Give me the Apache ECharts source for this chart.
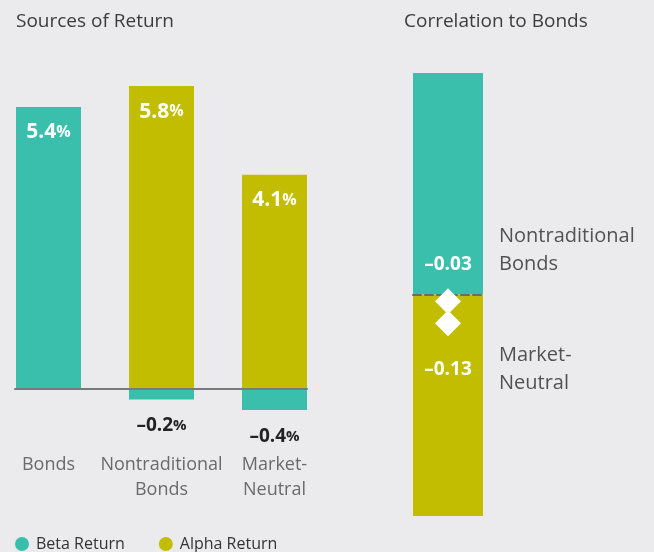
<!DOCTYPE html>
<html>
<head>
<meta charset="utf-8">
<script src="https://cdn.jsdelivr.net/npm/echarts@6/dist/echarts.min.js"></script>
<style>
  html, body { margin: 0; padding: 0; background: #ebebed; }
  #chart { width: 654px; height: 552px; }
</style>
</head>
<body>
<div id="chart"></div>
<script>
// sources of return (%)
const categories = ["Bonds", "Nontraditional\nBonds", "Market-\nNeutral"];
const betaReturn = [5.4, -0.2, -0.4];
const alphaReturn = [null, 5.8, 4.1];

// correlation to bonds: scale runs +1 .. -1
const corrCategory = ["Correlation"];
const corrUpper = [1];
const corrLower = [-1];
const corrNames = ["Nontraditional\nBonds", "Market-\nNeutral"];
const corrValues = [-0.03, -0.13];

const TEAL = "#3bbfad";
const OLIVE = "#c2bd00";
const FONT = "Open Sans";

// 负数用长横线
function fmt(v, digits) {
  return (v < 0 ? "\u2013" : "") + Math.abs(v).toFixed(digits);
}

function barLabel(v) {
  if (v < 0) {
    return {
      show: true,
      position: "bottom",
      distance: 17,
      formatter: (p) => `{n|${fmt(p.value, 1)}}{p|%}`,
      rich: {
        n: { fontSize: 19, fontWeight: "bold", color: "#222", fontFamily: FONT },
        p: { fontSize: 15, fontWeight: "bold", color: "#222", fontFamily: FONT },
      },
    };
  }
  return {
    show: true,
    position: "insideTop",
    distance: 15,
    formatter: (p) => `{n|${fmt(p.value, 1)}}{p|%}`,
    rich: {
      n: { fontSize: 21, fontWeight: "bold", color: "#fff", fontFamily: FONT },
      p: { fontSize: 16, fontWeight: "bold", color: "#fff", fontFamily: FONT },
    },
  };
}

const toBarData = (arr) =>
  arr.map((v) => (v == null ? null : { value: v, label: barLabel(v) }));

// 数值标签和名称标签的偏移（第一个在上，第二个在下）
const valueOffsets = [[0, -37], [0, 46]];
const nameOffsets = [[51, -51], [51, 46]];

const chart = echarts.init(document.getElementById("chart"));

const option = {
  animation: false,
  backgroundColor: "#ebebed",
  textStyle: { fontFamily: FONT },
  title: [
    {
      text: "Sources of Return",
      left: 11,
      top: 7,
      textStyle: { fontSize: 19, fontWeight: "normal", color: "#3c3c3c", fontFamily: FONT },
    },
    {
      text: "Correlation to Bonds",
      left: 399,
      top: 7,
      textStyle: { fontSize: 19, fontWeight: "normal", color: "#3c3c3c", fontFamily: FONT },
    },
  ],
  legend: {
    data: ["Beta Return", "Alpha Return"],
    left: 10,
    top: 531,
    icon: "circle",
    itemWidth: 14,
    itemHeight: 14,
    itemGap: 34,
    textStyle: { fontSize: 16, color: "#333", fontFamily: FONT, padding: [0, 0, 0, 2] },
  },
  grid: [
    { left: -8, width: 339, top: 75.6, height: 417.9, outerBoundsMode: "none", containLabel: false },
    { left: 15, width: 292, top: 75.6, height: 417.9, outerBoundsMode: "none", containLabel: false },
    { left: 413, width: 70, top: 73, height: 443, outerBoundsMode: "none", containLabel: false },
  ],
  xAxis: [
    {
      gridIndex: 0,
      type: "category",
      data: categories,
      axisLine: { show: false, onZero: false },
      axisTick: { show: false },
      // 标签放在网格底边之上
      axisLabel: {
        interval: 0,
        margin: -41,
        fontSize: 18,
        lineHeight: 25,
        color: "#6a6a6a",
        fontFamily: FONT,
      },
    },
    {
      gridIndex: 1,
      type: "value",
      min: 0,
      max: 1,
      z: 5,
      axisLine: { show: true, onZero: true, lineStyle: { color: "#7a7a7a", width: 2 } },
      axisTick: { show: false },
      axisLabel: { show: false },
      splitLine: { show: false },
    },
    {
      gridIndex: 2,
      type: "category",
      data: corrCategory,
      z: 5,
      axisLine: {
        show: true,
        onZero: true,
        lineStyle: { color: "#6b6b6b", width: 2, type: [8, 4] },
      },
      axisTick: { show: false },
      axisLabel: { show: false },
    },
  ],
  yAxis: [
    { gridIndex: 0, type: "value", min: -2, max: 6, show: false, splitLine: { show: false } },
    { gridIndex: 1, type: "value", min: -2, max: 6, show: false, splitLine: { show: false } },
    { gridIndex: 2, type: "value", min: -1, max: 1, show: false, splitLine: { show: false } },
  ],
  series: [
    {
      name: "Beta Return",
      type: "bar",
      stack: "ret",
      xAxisIndex: 0,
      yAxisIndex: 0,
      barWidth: 65,
      itemStyle: { color: TEAL },
      data: toBarData(betaReturn),
    },
    {
      name: "Alpha Return",
      type: "bar",
      stack: "ret",
      xAxisIndex: 0,
      yAxisIndex: 0,
      barWidth: 65,
      itemStyle: { color: OLIVE },
      data: toBarData(alphaReturn),
    },
    {
      name: "Upper",
      type: "bar",
      stack: "corr",
      xAxisIndex: 2,
      yAxisIndex: 2,
      barWidth: "100%",
      itemStyle: { color: TEAL },
      data: corrUpper,
    },
    {
      name: "Lower",
      type: "bar",
      stack: "corr",
      xAxisIndex: 2,
      yAxisIndex: 2,
      barWidth: "100%",
      itemStyle: { color: OLIVE },
      data: corrLower,
    },
    {
      name: "Correlation",
      type: "scatter",
      xAxisIndex: 2,
      yAxisIndex: 2,
      z: 6,
      symbol: "diamond",
      symbolSize: 26,
      itemStyle: { color: "#fff", opacity: 1 },
      data: corrValues.map((v, i) => ({
        value: [0, v],
        label: {
          show: true,
          position: "inside",
          offset: valueOffsets[i],
          formatter: fmt(v, 2),
          fontSize: 19,
          fontWeight: "bold",
          color: "#fff",
          fontFamily: FONT,
        },
      })),
    },
    {
      name: "Names",
      type: "scatter",
      xAxisIndex: 2,
      yAxisIndex: 2,
      z: 6,
      symbolSize: 1,
      itemStyle: { color: "rgba(0,0,0,0)" },
      data: corrValues.map((v, i) => ({
        value: [0, v],
        label: {
          show: true,
          position: "inside",
          align: "left",
          verticalAlign: "middle",
          offset: nameOffsets[i],
          formatter: corrNames[i],
          fontSize: 20,
          lineHeight: 28,
          color: "#2a2a2a",
          fontFamily: FONT,
        },
      })),
    },
  ],
};

chart.setOption(option);
</script>
</body>
</html>
